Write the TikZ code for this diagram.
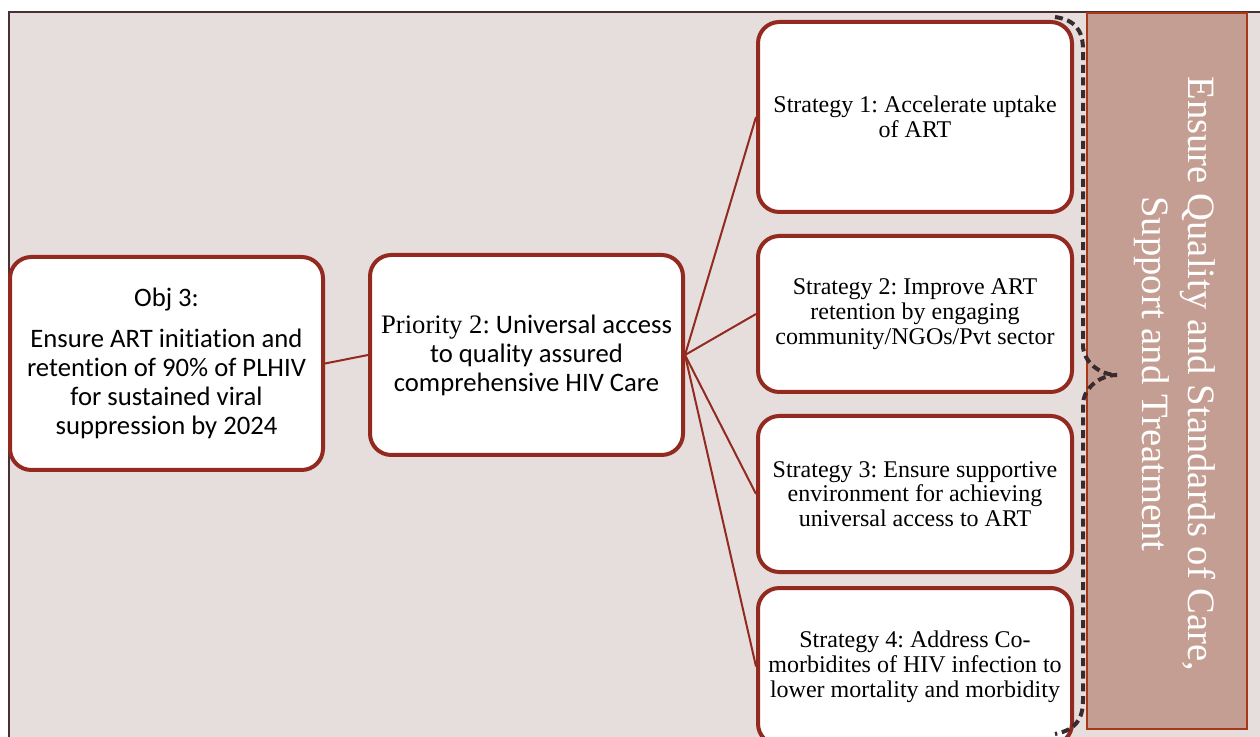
\documentclass[tikz,border=0pt]{standalone}
\usepackage{fontspec}
\setmainfont{Liberation Serif}
\newfontfamily\calfont[Ligatures={NoCommon,NoRare,NoContextual}]{Carlito}
\frenchspacing
\definecolor{panelbg}{HTML}{E6DDDD}
\definecolor{panelframe}{HTML}{4A3034}
\definecolor{cardline}{HTML}{922A20}
\definecolor{sidefill}{HTML}{C49E92}
\definecolor{sideline}{HTML}{A83818}
\definecolor{bracecol}{HTML}{3A2A2E}
\pgfdeclarelayer{panel}
\pgfdeclarelayer{links}
\pgfsetlayers{panel,links,main}
\begin{document}
\begin{tikzpicture}[x=0.75pt,y=-0.75pt,
  card/.style={draw=cardline, line width=3pt, fill=white, rounded corners=16pt,
    inner sep=4pt, align=center, text=black},
  calcard/.style={card, font=\calfont\fontsize{20}{21.8}\selectfont},
  stratcard/.style={card, minimum width=235.5pt, font=\fontsize{18}{18.6}\selectfont},
  link/.style={draw=cardline, line width=1.5pt},
  sidebox/.style={draw=sideline, line width=2pt, fill=sidefill, inner sep=0pt,
    minimum width=120pt, minimum height=537pt},
  sidetext/.style={text=white, align=center, inner sep=0pt,
    font=\fontsize{29}{34}\selectfont},
  bracestyle/.style={draw=bracecol, line width=3pt, dash pattern=on 6pt off 3.5pt}]

\useasboundingbox (0,0) rectangle (1260,737);
\clip (0,0) rectangle (1260,737);

% panel behind the chart
\begin{pgfonlayer}{panel}
\fill[panelbg] (9,12) rectangle (1265,745);
\draw[panelframe, line width=2pt] (9,745) -- (9,12) -- (1265,12);
\end{pgfonlayer}

% objective and priority
\node[calcard, minimum width=234.75pt, minimum height=159.75pt] (obj) at (166.5,363.5)
  {Obj 3:\\[9pt]Ensure ART initiation and\\retention of 90\% of PLHIV\\for sustained viral\\suppression by 2024};
\node[calcard, minimum width=234.75pt, minimum height=150pt] (prio) at (526.5,355)
  {{\rmfamily Priority 2:} Universal access\\to quality assured\\comprehensive HIV Care};

% strategies
\node[stratcard, minimum height=142.5pt] (s1) at (915,117)
  {Strategy 1: Accelerate uptake\\of ART};
\node[stratcard, minimum height=117pt] (s2) at (915,314)
  {Strategy 2: Improve ART\\retention by engaging\\community/NGOs/Pvt sector};
\node[stratcard, minimum height=117pt] (s3) at (915,494)
  {Strategy 3: Ensure supportive\\environment for achieving\\universal access to ART};
\node[stratcard, minimum height=117.75pt] (s4) at (915,666.5)
  {Strategy 4: Address Co-\\morbidites of HIV infection to\\lower mortality and morbidity};

% connectors, kept under the cards
\begin{pgfonlayer}{links}
\draw[link] (obj.east) -- (prio.west);
\foreach \s in {s1,s2,s3,s4}{\draw[link] (prio.east) -- (\s.west);}
\end{pgfonlayer}

% theme column
\node[sidebox] (side) at (1167,371) {};
\node[sidetext, rotate=-90] (sidelabel) at (1175,374)
  {Ensure Quality and Standards of Care,\\Support and Treatment};

% dashed brace grouping the strategies
\draw[bracestyle] (1055,17) .. controls (1075,20) and (1083,30) .. (1083,50)
  -- (1083,345) .. controls (1083,362) and (1100,375) .. (1117,375)
  .. controls (1100,375) and (1083,388) .. (1083,405)
  -- (1083,700) .. controls (1083,720) and (1075,730) .. (1055,734);
\end{tikzpicture}
\end{document}
